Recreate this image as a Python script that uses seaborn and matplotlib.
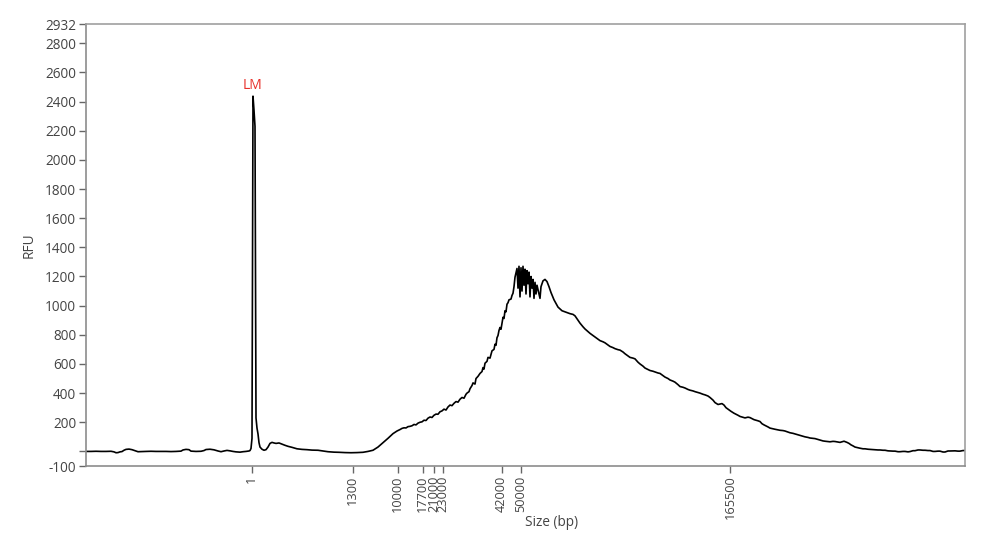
import numpy as np
import pandas as pd
import matplotlib
matplotlib.use("Agg")
import matplotlib.pyplot as plt
import seaborn as sns

# migration position (arbitrary units) and RFU signal
position = [0, 5, 10, 15, 20, 25, 28, 30, 32, 34, 36, 38, 40, 43, 46, 49, 52, 55, 60, 65,
            70, 75, 80, 85, 90, 95, 97, 100, 103, 105, 110, 115, 118, 120, 124, 128, 132, 135, 138, 141,
            144, 147, 150, 154, 157, 160, 163, 164, 165, 166, 167, 168, 169, 170, 171, 172, 173, 174, 176, 178,
            180, 182, 184, 186, 188, 190, 193, 196, 199, 202, 206, 211, 216, 221, 226, 232, 237, 242, 248, 253,
            259, 265, 271, 277, 282, 287, 292, 297, 302, 307, 311, 314, 316, 318, 320, 322, 324, 326, 328, 330,
            332, 334, 336, 338, 340, 342, 344, 346, 348, 350, 352, 354, 356, 358, 360, 362, 364, 366, 368, 370,
            372, 374, 376, 378, 380, 381, 383, 384, 386, 387, 389, 390, 392, 394, 396, 397, 398, 399, 401, 402,
            404, 406, 408, 409, 410, 411, 412, 413, 414, 415, 416, 417, 418, 419, 420, 421, 422, 423, 425, 426,
            427, 428, 429, 431, 432, 433, 434, 435, 436, 437, 438, 439, 440, 441, 442, 443, 444,
            445, 446, 447, 448, 449, 450, 451, 452, 454, 455, 457, 459, 461, 463, 465, 468, 472, 476, 480, 484,
            487, 489, 492, 494, 497, 499, 502, 504, 507, 509, 512, 514, 517, 519, 522, 524, 527, 529, 532, 534,
            537, 539, 542, 544, 547, 549, 552, 554, 557, 559, 562, 564, 567, 569, 572, 574, 577, 579, 582, 584,
            587, 589, 592, 594, 597, 599, 602, 604, 607, 609, 612, 614, 617, 619, 622, 624, 627, 629, 632, 636,
            638, 640, 643, 645, 648, 650, 652, 654, 657, 659, 662, 664, 666, 668, 670, 672, 674, 676, 678, 680,
            682, 684, 687, 689, 692, 694, 697, 699, 702, 704, 707, 709, 712, 714, 717, 719, 722, 724, 727, 729,
            732, 734, 737, 739, 742, 744, 747, 749, 752, 754, 756, 758, 761, 763, 765, 767, 769, 772, 774, 777,
            779, 782, 784, 787, 789, 792, 794, 797, 799, 802, 804, 807, 809, 812, 814, 817, 819, 822, 824, 827,
            829, 832, 834, 837, 839, 842, 844, 847, 849, 852, 854, 857, 859, 862, 864, 867, 869, 872, 874, 877,
            879]
rfu = [0, 0, 1, 0, 0, 1, -3, -9, -8, -3, -1, 8, 14, 16, 12, 5, -2, -1, 0, 1,
       0, 0, 0, -1, 0, 2, 10, 14, 12, 2, 0, 1, 6, 13, 15, 11, 3, -2, 3, 7,
       4, 0, -3, -5, -2, 0, 3, 6, 20, 90, 2437, 2340, 2230, 230, 160, 120, 60, 30, 15, 8,
       12, 30, 55, 62, 58, 55, 58, 50, 42, 35, 28, 18, 14, 12, 9, 8, 3, -2, -5, -6,
       -8, -9, -8, -6, 0, 8, 30, 60, 90, 122, 140, 150, 158, 162, 161, 170, 172, 176, 185, 182,
       194, 200, 203, 214, 212, 228, 236, 233, 248, 256, 255, 272, 278, 290, 284, 305, 318, 314, 330, 342,
       338, 358, 370, 365, 392, 400, 410, 430, 452, 470, 462, 500, 515, 535, 548, 575, 565, 605, 618, 645,
       640, 690, 700, 735, 728, 780, 795, 830, 850, 838, 880, 920, 912, 965, 958, 1010, 1020, 1040, 1045, 1070,
       1085, 1130, 1195, 1255, 1120, 1270, 1060, 1260, 1100, 1270, 1140, 1250, 1080, 1240, 1150, 1230, 1060,
       1200, 1120, 1180, 1050, 1160, 1080, 1140, 1110, 1050, 1130, 1170, 1180, 1165, 1130, 1090, 1040, 990, 965, 955, 945,
       940, 930, 900, 880, 855, 840, 822, 810, 795, 785, 770, 760, 752, 745, 730, 720, 712, 705, 698, 695,
       682, 670, 655, 645, 640, 635, 612, 600, 585, 572, 562, 555, 550, 545, 538, 535, 520, 510, 500, 490,
       482, 475, 458, 445, 440, 435, 425, 420, 415, 410, 404, 400, 392, 388, 380, 370, 352, 335, 322, 328,
       318, 300, 285, 275, 262, 255, 248, 240, 234, 230, 235, 232, 225, 218, 214, 210, 205, 190, 182, 175,
       168, 160, 155, 152, 148, 145, 143, 140, 133, 128, 124, 120, 114, 110, 104, 100, 96, 92, 90, 88,
       82, 78, 72, 70, 68, 66, 69, 68, 64, 62, 66, 70, 62, 55, 45, 38, 30, 25, 22, 18,
       18, 15, 14, 12, 12, 10, 10, 8, 8, 4, 3, 2, 2, -2, -2, 0, 0, -3, -1, 5,
       5, 10, 10, 8, 8, 6, 6, 0, 0, 2, 2, -4, -4, 3, 3, 4, 4, 2, 2, 6,
       6]

# size ladder tick positions and labels
size_pos = [165.7, 266.7, 311.7, 336.7, 348.3, 356.7, 415.7, 435.0, 644.0]
size_labels = ["1", "1300", "10000", "17700", "21000", "23000", "42000", "50000", "165500"]

y_ticks = [-100, 0, 200, 400, 600, 800, 1000, 1200, 1400, 1600, 1800, 2000, 2200, 2400, 2600, 2800, 2932]
y_labels = ["-100", "", "200", "400", "600", "800", "1000", "1200", "1400", "1600", "1800", "2000",
            "2200", "2400", "2600", "2800", "2932"]

marker_label = "LM"

sns.set_theme(style="white")
plt.rcParams['font.family'] = ['Open Sans', 'DejaVu Sans']

df = pd.DataFrame({"position": position, "RFU": rfu})

fig = plt.figure(figsize=(9.89, 5.33), dpi=100)
ax = fig.add_axes([86 / 989, 1 - 466 / 533, (965 - 86) / 989, (466 - 24) / 533])

sns.lineplot(data=df, x="position", y="RFU", ax=ax, color="black", linewidth=1.2,
             estimator=None, sort=True)

ax.set_xlim(0, 879)
ax.set_ylim(-100, 2932)

ax.set_yticks(y_ticks)
ax.set_yticklabels(y_labels)
ax.set_xticks(size_pos)
ax.set_xticklabels(size_labels, rotation=90)

ax.tick_params(axis="y", direction="out", length=5, width=1,
               color="#666666", labelcolor="#444444", labelsize=9.8, pad=2, left=True)
ax.tick_params(axis="x", direction="out", length=5, width=1,
               color="#666666", labelcolor="#444444", labelsize=9.2, pad=2, bottom=True)

for side, sp in ax.spines.items():
    sp.set_visible(True)
    sp.set_color("#a0a0a0" if side in ("top", "right") else "#8c8c8c")
    sp.set_linewidth(1.2)

ax.set_ylabel("RFU", fontsize=9.8, color="#444444", labelpad=6)
ax.set_xlabel("Size (bp)", fontsize=9.8, color="#444444")
ax.xaxis.set_label_coords((552 - 86) / (965 - 86), -(523 - 466) / (466 - 24))
ax.xaxis.label.set_va("center")

peak_i = int(np.argmax(rfu))
ax.text(position[peak_i] - 1, rfu[peak_i] + 20, marker_label, color="#e8302a",
        fontsize=10, ha="center", va="bottom")

fig.savefig("out.png", dpi=100)
